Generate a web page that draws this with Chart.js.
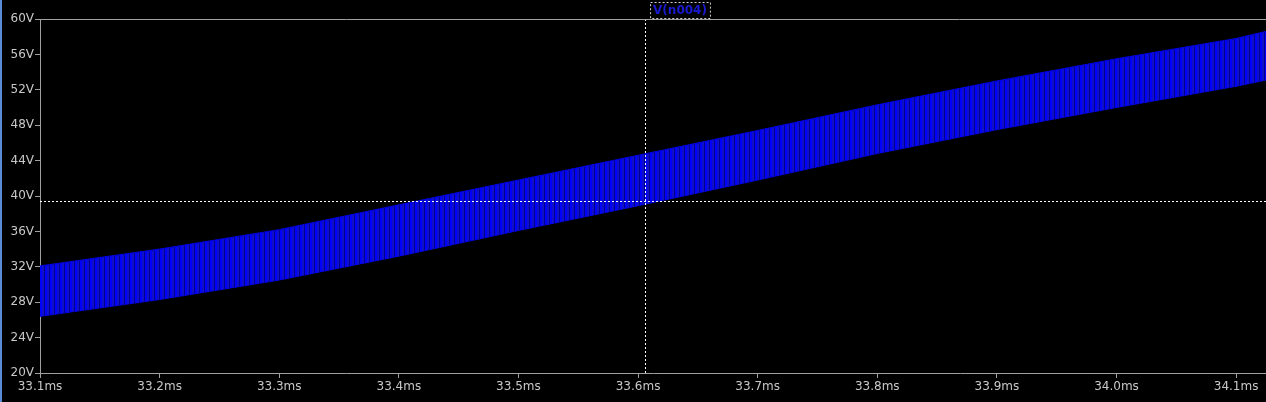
<!DOCTYPE html>
<html>
<head>
<meta charset="utf-8">
<script src="https://cdn.jsdelivr.net/npm/chart.js@4"></script>
<style>
  html, body { margin: 0; padding: 0; background: #000; }
  #wrap { width: 1266px; height: 402px; }
</style>
</head>
<body>
<div id="wrap"><canvas id="grafico"></canvas></div>
<script>
// envelope of the ripple trace (ms / V)
const tempos = [33.1, 33.2, 33.3, 33.4, 33.5, 33.6, 33.7, 33.8, 33.9, 34.0, 34.1, 34.125];
const topo   = [32.1, 34.0, 36.2, 39.0, 41.8, 44.6, 47.4, 50.3, 53.0, 55.5, 57.8, 58.6];
const base   = [26.4, 28.3, 30.5, 33.2, 36.1, 38.9, 41.8, 44.8, 47.5, 50.0, 52.4, 53.1];
const ticksY = [20, 24, 28, 32, 36, 40, 44, 48, 52, 56, 60];
const ticksX = [33.1, 33.2, 33.3, 33.4, 33.5, 33.6, 33.7, 33.8, 33.9, 34.0, 34.1];
const cursorX = 33.606;
const cursorY = 39.4;
const nomeTraco = "V(n004)";

const COR_TEXTO = "#c8c8c8";
const COR_EIXO = "#a0a0a0";

// striped fill to mimic the dense ripple
function padraoListrado(ctx) {
    const c = document.createElement("canvas");
    c.width = 5; c.height = 4;
    const p = c.getContext("2d");
    p.fillStyle = "#1010c8";
    p.fillRect(0, 0, 5, 4);
    p.fillStyle = "#0000ff";
    p.fillRect(0, 0, 2, 4);
    p.fillStyle = "#000090";
    p.fillRect(4, 0, 1, 4);
    return ctx.createPattern(c, "repeat");
}

const fundo = {
    id: "fundo",
    beforeDraw(chart) {
        const { ctx, width, height } = chart;
        ctx.save();
        ctx.fillStyle = "#000";
        ctx.fillRect(0, 0, width, height);
        ctx.fillStyle = "#5a8cd8";
        ctx.fillRect(0, 0, 2, height);
        ctx.restore();
    },
    afterDatasetsDraw(chart) {
        const { ctx, chartArea: a, scales } = chart;
        const px = scales.x.getPixelForValue(cursorX);
        const py = scales.y.getPixelForValue(cursorY);
        ctx.save();
        ctx.strokeStyle = "#ffffff";
        ctx.lineWidth = 1;
        ctx.setLineDash([2, 2]);
        ctx.beginPath();
        ctx.moveTo(Math.round(px) + 0.5, a.top);
        ctx.lineTo(Math.round(px) + 0.5, a.bottom);
        ctx.moveTo(a.left, Math.round(py) + 0.5);
        ctx.lineTo(a.right, Math.round(py) + 0.5);
        ctx.stroke();
        // top border line
        ctx.setLineDash([]);
        ctx.strokeStyle = COR_EIXO;
        ctx.beginPath();
        ctx.moveTo(a.left, a.top + 0.5);
        ctx.lineTo(a.right, a.top + 0.5);
        ctx.stroke();
        // trace name box
        ctx.font = "bold 12px 'DejaVu Sans'";
        const w = ctx.measureText(nomeTraco).width;
        const cx = 680;
        ctx.fillStyle = "#000";
        ctx.fillRect(cx - w / 2 - 3, 2, w + 6, 16);
        ctx.strokeStyle = "#d0d0d0";
        ctx.setLineDash([2, 2]);
        ctx.strokeRect(cx - w / 2 - 3 + 0.5, 2.5, w + 6, 16);
        ctx.fillStyle = "#1a1ad0";
        ctx.textAlign = "center";
        ctx.textBaseline = "middle";
        ctx.fillText(nomeTraco, cx, 11);
        ctx.restore();
    }
};

const ctx = document.getElementById("grafico").getContext("2d");
new Chart(ctx, {
    type: "line",
    data: {
        datasets: [
            {
                data: tempos.map((t, i) => ({ x: t, y: topo[i] })),
                borderColor: "#0000e0", borderWidth: 1, pointRadius: 0,
                backgroundColor: padraoListrado(ctx), fill: "+1", tension: 0
            },
            {
                data: tempos.map((t, i) => ({ x: t, y: base[i] })),
                borderColor: "#0000e0", borderWidth: 1, pointRadius: 0,
                fill: false, tension: 0
            }
        ]
    },
    options: {
        responsive: true,
        maintainAspectRatio: false,
        animation: false,
        layout: { padding: { top: 19, right: 0, left: 0, bottom: 0 } },
        plugins: { legend: { display: false }, tooltip: { enabled: false } },
        scales: {
            x: {
                type: "linear", min: 33.1, max: 34.125,
                afterBuildTicks: s => { s.ticks = ticksX.map(v => ({ value: v })); },
                afterFit: s => { s.height = 29; },
                border: { color: COR_EIXO, width: 1 },
                grid: { drawOnChartArea: false, color: COR_EIXO, tickLength: 5 },
                ticks: {
                    color: COR_TEXTO, maxRotation: 0, autoSkip: false, padding: 2,
                    font: { family: "'DejaVu Sans'", size: 12 },
                    callback: v => v.toFixed(1) + "ms"
                }
            },
            y: {
                min: 20, max: 60,
                afterBuildTicks: s => { s.ticks = ticksY.map(v => ({ value: v })); },
                afterFit: s => { s.width = 40; },
                border: { color: COR_EIXO, width: 1 },
                grid: { drawOnChartArea: false, color: COR_EIXO, tickLength: 5 },
                ticks: {
                    color: COR_TEXTO, autoSkip: false, padding: 1,
                    font: { family: "'DejaVu Sans'", size: 12 },
                    callback: v => v + "V"
                }
            }
        }
    },
    plugins: [fundo]
});
</script>
</body>
</html>
